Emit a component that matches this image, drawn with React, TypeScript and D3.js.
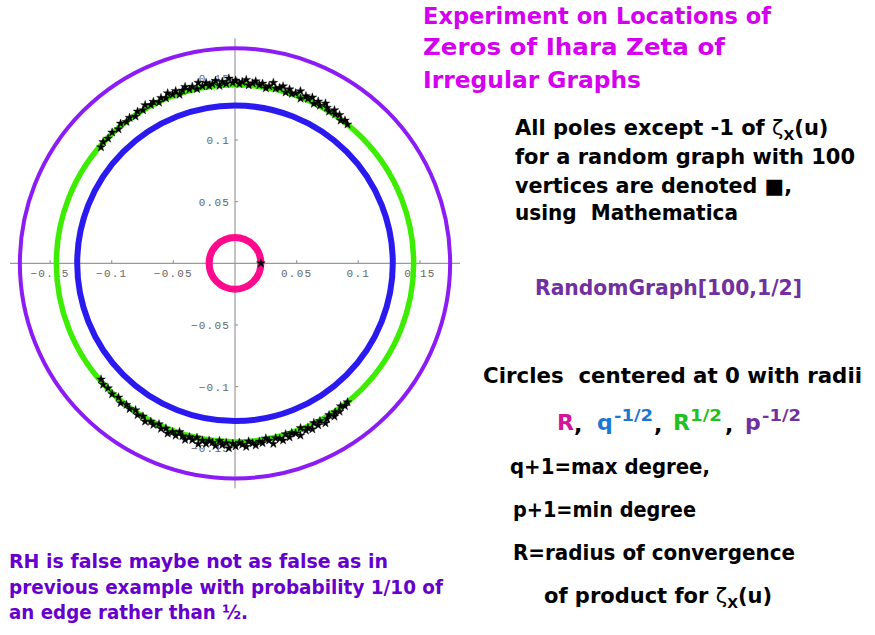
import React from "react";
import * as d3 from "d3";

// tick labels on both axes
const tickValues = [-0.15, -0.1, -0.05, 0.05, 0.1, 0.15];

// circles centered at 0: R, q^-1/2, R^1/2, p^-1/2
const circleNames = ["R", "qInvSqrt", "RSqrt", "pInvSqrt"];
const circleRadii = [0.021, 0.128, 0.1449, 0.1745];

// poles in the upper half plane as [angle in degrees, modulus]; the lower half are their conjugates
const upperPoles: [number, number][] = [
  [51.0, 0.145], [52.4, 0.1462], [53.5, 0.1441], [54.8, 0.1472], [56.1, 0.1456],
  [57.0, 0.1481], [58.2, 0.1448], [59.4, 0.1467], [60.5, 0.149], [61.7, 0.1453],
  [62.8, 0.1476], [63.7, 0.1444], [65.0, 0.1485], [66.1, 0.146], [67.0, 0.1473],
  [68.3, 0.1438], [69.2, 0.1494], [70.4, 0.1465], [71.5, 0.1451], [72.6, 0.1479],
  [73.5, 0.1446], [74.8, 0.1488], [75.7, 0.1469], [76.9, 0.1456], [78.0, 0.1497],
  [79.1, 0.1463], [80.0, 0.1442], [81.3, 0.1475], [82.2, 0.1459], [83.5, 0.1486],
  [84.4, 0.1467], [85.6, 0.1449], [86.5, 0.1491], [87.7, 0.1472], [88.6, 0.1455],
  [89.8, 0.1483], [90.7, 0.1464], [91.9, 0.15], [92.8, 0.1458], [94.0, 0.1477],
  [95.0, 0.1445], [96.1, 0.1489], [97.2, 0.1466], [98.3, 0.1453], [99.1, 0.1482],
  [100.4, 0.1461], [101.5, 0.1495], [102.3, 0.1447], [103.6, 0.1474], [104.7, 0.1457],
  [105.8, 0.1487], [106.9, 0.1465], [108.2, 0.144], [109.0, 0.1478], [110.3, 0.1459],
  [111.6, 0.1484], [112.7, 0.1452], [114.1, 0.147], [115.3, 0.1443], [116.8, 0.1468],
  [118.0, 0.1454], [119.6, 0.1476], [121.0, 0.1449], [122.7, 0.1463], [124.1, 0.1439],
  [125.9, 0.1458], [127.5, 0.1446], [129.3, 0.1465], [131.0, 0.1441], [133.2, 0.1456],
  [135.5, 0.1444], [137.4, 0.1453], [139.1, 0.1438],
];

// real pole on the positive axis
const realPoles = [0.021];

const ringColor: Record<string, string> = {
  R: "#ff0a8c",
  qInvSqrt: "#2b1af0",
  RSqrt: "#3ded00",
  pInvSqrt: "#8c1cf5",
};
const ringWidth: Record<string, number> = { R: 7, qInvSqrt: 6, RSqrt: 5.5, pInvSqrt: 4 };

const FONT = "'DejaVu Sans', sans-serif";

const Line = ({ x, y, w, size, fill, children, anchor }: any) => (
  <text
    x={x}
    y={y}
    fontFamily={FONT}
    fontWeight="bold"
    fontSize={size}
    fill={fill}
    textAnchor={anchor}
    textLength={w}
    lengthAdjust={w ? "spacingAndGlyphs" : undefined}
    style={{ whiteSpace: "pre" }}
  >
    {children}
  </text>
);

const Zeta = () => (
  <>
    <tspan fontWeight="normal">ζ</tspan>
    <tspan fontSize={14} dy={5}>X</tspan>
    <tspan dy={-5}>(u)</tspan>
  </>
);

export default function App() {
  const x = d3.scaleLinear().domain([-0.1825, 0.1825]).range([10, 460]);
  const y = d3.scaleLinear().domain([-0.1825, 0.1825]).range([488.3, 38.3]);
  const star = d3.symbol().type(d3.symbolStar).size(24)();

  const poles = [
    ...upperPoles.map(([a, r]) => [r * Math.cos((a * Math.PI) / 180), r * Math.sin((a * Math.PI) / 180)]),
    ...upperPoles.map(([a, r]) => [r * Math.cos((a * Math.PI) / 180), -r * Math.sin((a * Math.PI) / 180)]),
    ...realPoles.map((r) => [r, 0]),
  ];

  const tickFont = { fontFamily: "'Liberation Mono', monospace", fontSize: 11, fill: "#666", letterSpacing: 1.2 };

  return (
    <div style={{ position: "fixed", left: 0, top: 0 }}>
      <svg width={875} height={635} style={{ display: "block", background: "#fff" }}>
        {/* axes */}
        <g stroke="#9a9a9a" strokeWidth={1.2}>
          <line x1={x(-0.1825)} x2={x(0.1825)} y1={y(0)} y2={y(0)} />
          <line x1={x(0)} x2={x(0)} y1={y(-0.1825)} y2={y(0.1825)} />
          {tickValues.map((t) => (
            <line key={"xt" + t} x1={x(t)} x2={x(t)} y1={y(0)} y2={y(0) - 3} />
          ))}
          {tickValues.map((t) => (
            <line key={"yt" + t} x1={x(0)} x2={x(0) + 3} y1={y(t)} y2={y(t)} />
          ))}
        </g>
        <g {...tickFont}>
          {tickValues.map((t) => (
            <text key={"xl" + t} x={x(t)} y={y(0) + 14} textAnchor="middle">
              {d3.format("")(t)}
            </text>
          ))}
          {tickValues.map((t) => (
            <text key={"yl" + t} x={x(0) - 5} y={y(t) + 4} textAnchor="end">
              {d3.format("")(t)}
            </text>
          ))}
        </g>

        {/* circles */}
        {circleNames.map((n, i) => (
          <circle
            key={n}
            cx={x(0)}
            cy={y(0)}
            r={x(circleRadii[i]) - x(0)}
            fill="none"
            stroke={ringColor[n]}
            strokeWidth={ringWidth[n]}
          />
        ))}

        {/* poles */}
        <g fill="#000" stroke="#000" strokeWidth={0.4}>
          {poles.map((p, i) => (
            <path key={i} d={star!} transform={`translate(${x(p[0])},${y(p[1])})`} />
          ))}
        </g>

        {/* title */}
        <Line x={423} y={24} w={348} size={23} fill="#d600f0">Experiment on Locations of</Line>
        <Line x={423} y={55} w={302} size={23} fill="#d600f0">Zeros of Ihara Zeta of</Line>
        <Line x={423} y={88} w={218} size={23} fill="#d600f0">Irregular Graphs</Line>

        {/* right block */}
        <text x={515} y={135} fontFamily={FONT} fontWeight="bold" fontSize={21} fill="#000">
          All poles except -1 of <Zeta />
        </text>
        <Line x={515} y={163.5} w={340} size={21} fill="#000">for a random graph with 100</Line>
        <Line x={515} y={192.5} w={277} size={21} fill="#000">vertices are denoted ■,</Line>
        <Line x={515} y={220} w={223} size={21} fill="#000">{"using  Mathematica"}</Line>

        <Line x={535} y={295} w={267} size={21} fill="#7030a0">RandomGraph[100,1/2]</Line>

        <Line x={483} y={383} w={379} size={21} fill="#000">{"Circles  centered at 0 with radii"}</Line>

        <g fontFamily={FONT} fontWeight="bold" fontSize={22}>
          <text x={557} y={430} fill="#d4159b">R</text>
          <text x={574} y={432} fill="#000">,</text>
          <text x={597} y={430} fill="#1a78d0">q</text>
          <text x={614} y={421} fill="#1a78d0" fontSize={15} textLength={39} lengthAdjust="spacingAndGlyphs">-1/2</text>
          <text x={654} y={432} fill="#000">,</text>
          <text x={673} y={430} fill="#22c022">R</text>
          <text x={690} y={421} fill="#22c022" fontSize={15} textLength={32} lengthAdjust="spacingAndGlyphs">1/2</text>
          <text x={725} y={432} fill="#000">,</text>
          <text x={745} y={430} fill="#7030a0">p</text>
          <text x={762} y={421} fill="#7030a0" fontSize={15} textLength={39} lengthAdjust="spacingAndGlyphs">-1/2</text>
        </g>

        <Line x={510} y={474} w={200} size={21} fill="#000">q+1=max degree,</Line>
        <Line x={513} y={517} w={183} size={21} fill="#000">p+1=min degree</Line>
        <Line x={513} y={559.5} w={282} size={21} fill="#000">R=radius of convergence</Line>
        <text x={544} y={603} fontFamily={FONT} fontWeight="bold" fontSize={21} fill="#000">
          of product for <Zeta />
        </text>

        {/* bottom left note */}
        <Line x={9} y={567.5} w={379} size={19} fill="#6600cc">RH is false maybe not as false as in</Line>
        <Line x={9} y={593.5} w={434} size={19} fill="#6600cc">previous example with probability 1/10 of</Line>
        <Line x={9} y={618.5} w={239} size={19} fill="#6600cc">an edge rather than ½.</Line>
      </svg>
    </div>
  );
}
